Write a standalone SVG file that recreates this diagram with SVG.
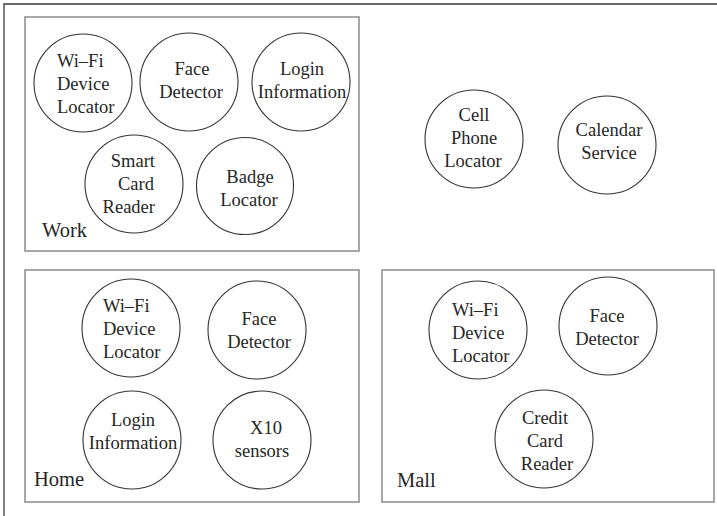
<svg xmlns="http://www.w3.org/2000/svg" width="717" height="516" viewBox="0 0 717 516">
  <style>
    .frame { fill: none; stroke: #3a3a3a; stroke-width: 1.3; }
    .area { fill: #ffffff; stroke: #8a8a8a; stroke-width: 1.5; }
    .svc { fill: #ffffff; stroke: #333333; stroke-width: 1.1; }
    text { font-family: "Liberation Serif", "Times New Roman", serif; fill: #262626; }
    .t { font-size: 18.5px; text-anchor: middle; }
    .tl { font-size: 18.5px; text-anchor: start; }
    .tr { font-size: 18.5px; text-anchor: end; }
    .lbl { font-size: 20.5px; }
  </style>
  <rect width="717" height="516" fill="#ffffff"/>
  <polyline class="frame" points="4,516 4,4 717,4"/>

  <!-- Work -->
  <g id="work">
    <rect class="area" x="25" y="17" width="334" height="234"/>
    <text class="lbl" x="42" y="237">Work</text>
  </g>
  <g id="work-wifi">
    <circle class="svc" cx="83" cy="83" r="49"/>
    <text class="tl" x="57" y="67">Wi–Fi</text>
    <text class="tl" x="57" y="90">Device</text>
    <text class="tl" x="57" y="113">Locator</text>
  </g>
  <g id="work-face">
    <circle class="svc" cx="189" cy="82" r="49"/>
    <text class="t" x="192" y="75">Face</text>
    <text class="t" x="191" y="98">Detector</text>
  </g>
  <g id="work-login">
    <circle class="svc" cx="301" cy="82" r="49"/>
    <text class="t" x="302" y="75">Login</text>
    <text class="t" x="302" y="98">Information</text>
  </g>
  <g id="work-smartcard">
    <circle class="svc" cx="134" cy="184" r="49"/>
    <text class="tr" x="155" y="167">Smart</text>
    <text class="tr" x="154" y="190">Card</text>
    <text class="tr" x="155" y="213">Reader</text>
  </g>
  <g id="work-badge">
    <circle class="svc" cx="245" cy="186" r="48.5"/>
    <text class="t" x="250" y="183">Badge</text>
    <text class="t" x="249" y="206">Locator</text>
  </g>

  <!-- services outside any place -->
  <g id="cell-phone">
    <circle class="svc" cx="474" cy="139" r="49"/>
    <text class="t" x="474" y="121">Cell</text>
    <text class="t" x="474" y="144">Phone</text>
    <text class="t" x="473" y="167">Locator</text>
  </g>
  <g id="calendar">
    <circle class="svc" cx="607" cy="145" r="49"/>
    <text class="t" x="609" y="136">Calendar</text>
    <text class="t" x="609" y="159">Service</text>
  </g>

  <!-- Home -->
  <g id="home">
    <rect class="area" x="25" y="270" width="334" height="232"/>
    <text class="lbl" x="34" y="486">Home</text>
  </g>
  <g id="home-wifi">
    <circle class="svc" cx="131" cy="328" r="49"/>
    <text class="tl" x="103" y="312">Wi–Fi</text>
    <text class="tl" x="103" y="335">Device</text>
    <text class="tl" x="103" y="358">Locator</text>
  </g>
  <g id="home-face">
    <circle class="svc" cx="257" cy="330" r="49"/>
    <text class="t" x="259" y="325">Face</text>
    <text class="t" x="259" y="348">Detector</text>
  </g>
  <g id="home-login">
    <circle class="svc" cx="132" cy="440" r="49"/>
    <text class="t" x="133" y="426">Login</text>
    <text class="t" x="133" y="449">Information</text>
  </g>
  <g id="home-x10">
    <circle class="svc" cx="262" cy="440" r="49"/>
    <text class="t" x="266" y="434">X10</text>
    <text class="t" x="262" y="457">sensors</text>
  </g>

  <!-- Mall -->
  <g id="mall">
    <rect class="area" x="382" y="270" width="332" height="232"/>
    <text class="lbl" x="397" y="487">Mall</text>
  </g>
  <g id="mall-wifi">
    <circle class="svc" cx="478" cy="330" r="49"/>
    <text class="tl" x="452" y="316">Wi–Fi</text>
    <text class="tl" x="452" y="339">Device</text>
    <text class="tl" x="452" y="362">Locator</text>
  </g>
  <g id="mall-face">
    <circle class="svc" cx="608" cy="326" r="49"/>
    <text class="t" x="607" y="322">Face</text>
    <text class="t" x="607" y="345">Detector</text>
  </g>
  <g id="mall-creditcard">
    <circle class="svc" cx="544" cy="439" r="49"/>
    <text class="t" x="545" y="424">Credit</text>
    <text class="t" x="545" y="447">Card</text>
    <text class="t" x="547" y="470">Reader</text>
  </g>

  <g id="connectors"/>
</svg>
